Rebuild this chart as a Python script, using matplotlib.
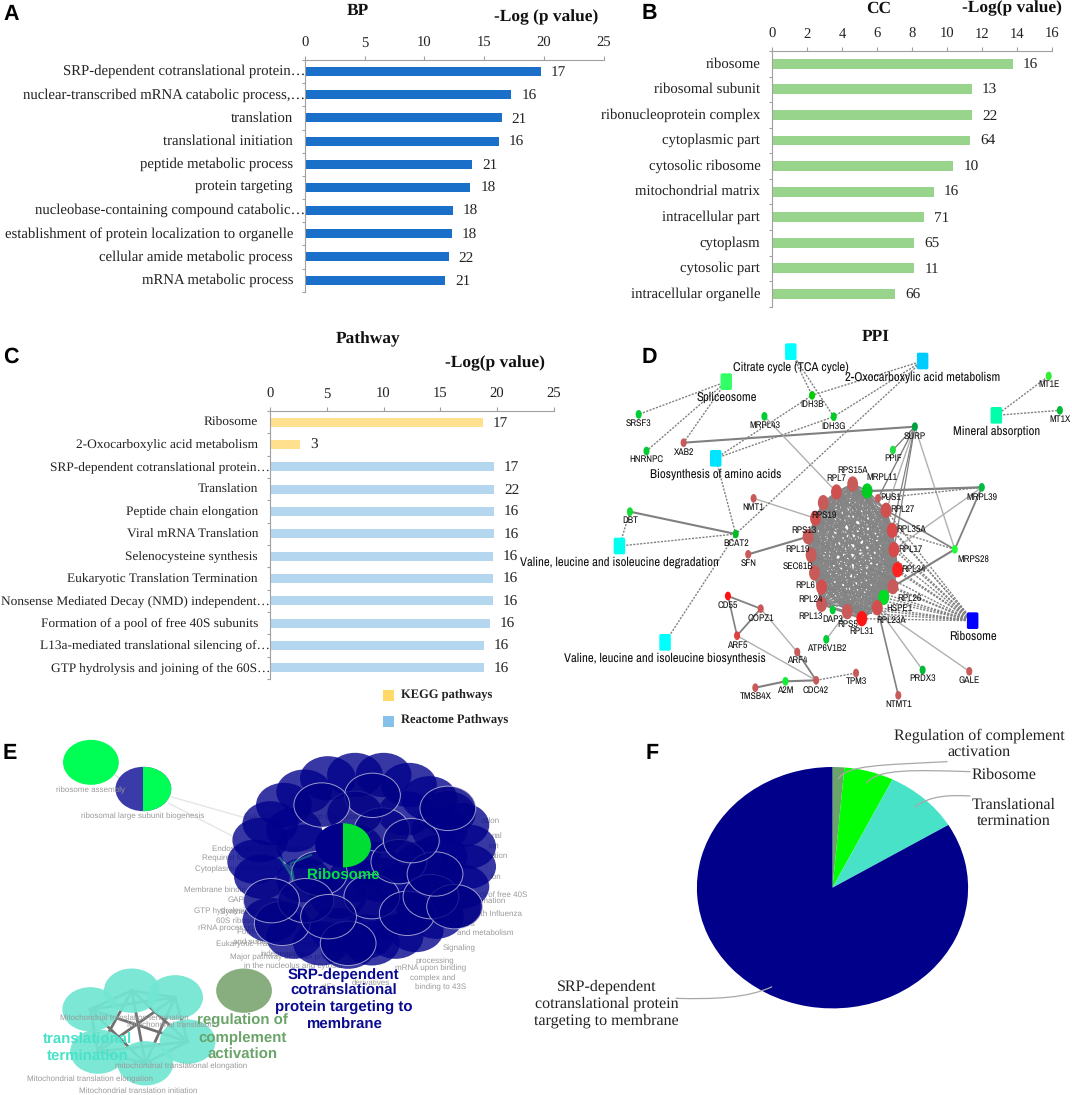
"""Six panel enrichment figure: GO bars, pathway bars, PPI network, cluster map, pie."""
from itertools import combinations

import matplotlib
matplotlib.use("Agg")
import matplotlib.pyplot as plt
from matplotlib.patches import Ellipse, FancyBboxPatch, PathPatch, Rectangle
from matplotlib.path import Path

plt.rcParams["text.hinting"] = "none"

W, H = 1072, 1095
SERIF = "Liberation Serif"
SANS = "Liberation Sans"
NARROW = ["Archivo Narrow", "Liberation Sans"]

# ---------------------------------------------------------------------------
# Bar data
# ---------------------------------------------------------------------------
BP_TERMS = ["SRP-dependent cotranslational protein…", "nuclear-transcribed mRNA catabolic process,…",
            "translation", "translational initiation", "peptide metabolic process", "protein targeting",
            "nucleobase-containing compound catabolic…", "establishment of protein localization to organelle",
            "cellular amide metabolic process", "mRNA metabolic process"]
BP_VALUES = [19.73, 17.28, 16.46, 16.23, 14.0, 13.84, 12.35, 12.32, 12.02, 11.75]
BP_COUNTS = [17, 16, 21, 16, 21, 18, 18, 18, 22, 21]

CC_TERMS = ["ribosome", "ribosomal subunit", "ribonucleoprotein complex", "cytoplasmic part",
            "cytosolic ribosome", "mitochondrial matrix", "intracellular part", "cytoplasm",
            "cytosolic part", "intracellular organelle"]
CC_VALUES = [13.77, 11.42, 11.42, 11.33, 10.36, 9.23, 8.66, 8.12, 8.12, 7.04]
CC_COUNTS = [16, 13, 22, 64, 10, 16, 71, 65, 11, 66]

PW_TERMS = ["Ribosome", "2-Oxocarboxylic acid metabolism", "SRP-dependent cotranslational protein…",
            "Translation", "Peptide chain elongation", "Viral mRNA Translation", "Selenocysteine synthesis",
            "Eukaryotic Translation Termination", "Nonsense Mediated Decay (NMD) independent…",
            "Formation of a pool of free 40S subunits", "L13a-mediated translational silencing of…",
            "GTP hydrolysis and joining of the 60S…"]
PW_VALUES = [18.72, 2.66, 19.74, 19.74, 19.7, 19.7, 19.65, 19.65, 19.65, 19.36, 18.85, 18.85]
PW_COUNTS = [17, 3, 17, 22, 16, 16, 16, 16, 16, 16, 16, 16]
PW_KEGG_ROWS = 2

# ---------------------------------------------------------------------------
# Pie data
# ---------------------------------------------------------------------------
PIE_SHARES = [1.4, 5.9, 9.0, 83.7]
PIE_COLORS = ["#6aa46a", "#00ff00", "#48e2c8", "#00008b"]

# ---------------------------------------------------------------------------
# PPI network, layout read from a crop of panel D
# ---------------------------------------------------------------------------
RED = "#c85a5a"
PATHWAYS = {
    "Citrate cycle (TCA cycle)": (742, 65, "#00ffff", 742, 112),
    "2-Oxocarboxylic acid metabolism": (1132, 93, "#00ccff", 1132, 141),
    "Spliceosome": (551, 155, "#33ff66", 551, 203),
    "Mineral absorption": (1350, 256, "#00ffaa", 1350, 303),
    "Biosynthesis of amino acids": (520, 385, "#00e5ff", 520, 432),
    "Valine, leucine and isoleucine degradation": (235, 648, "#00ffee", 234, 697),
    "Valine, leucine and isoleucine biosynthesis": (370, 937, "#00ffff", 370, 986),
    "Ribosome": (1280, 872, "#0000ff", 1280, 919),
}
GENES = {
    "SRSF3": (292, 253, "#00cc33", 292, 279), "HNRNPC": (315, 363, "#00cc33", 315, 389),
    "XAB2": (425, 338, RED, 425, 366), "MRPL43": (664, 259, "#00cc33", 664, 285),
    "IDH3B": (805, 196, "#00cc00", 805, 223), "IDH3G": (869, 260, "#00cc22", 869, 288),
    "SURP": (1109, 290, "#00a040", 1109, 319), "PPIF": (1044, 360, "#22dd44", 1044, 386),
    "MT1E": (1505, 138, "#33ee33", 1505, 164), "MT1X": (1538, 241, "#00bb33", 1538, 267),
    "MRPL39": (1307, 472, "#00bb44", 1307, 501), "MRPS28": (1227, 658, "#22ff33", 1281, 688),
    "NMT1": (632, 505, RED, 632, 532), "DBT": (266, 545, "#11dd33", 266, 572),
    "BCAT2": (579, 612, "#00bb22", 579, 640), "SFN": (616, 673, RED, 616, 700),
    "CD55": (556, 798, "#ff1111", 556, 825), "COPZ1": (653, 836, RED, 653, 864),
    "ARF5": (583, 917, "#e04040", 583, 945), "ARF4": (761, 966, RED, 761, 992),
    "CDC42": (817, 1051, RED, 817, 1080), "A2M": (726, 1054, "#11ee33", 726, 1080),
    "TMSB4X": (637, 1073, RED, 637, 1098), "TPM3": (935, 1029, RED, 935, 1055),
    "ATP6V1B2": (847, 928, "#00cc33", 847, 956), "PRDX3": (1132, 1020, "#00bb33", 1132, 1046),
    "GALE": (1270, 1024, RED, 1270, 1051), "NTMT1": (1060, 1096, RED, 1060, 1122),
    "PUS1": (1000, 505, RED, 1037, 502), "DAP3": (866, 840, "#00cc33", 866, 869),
}
RING = {
    "RPS15A": (925, 462, RED, 925, 420), "MRPL11": (968, 483, "#00cc22", 1012, 441),
    "RPL27": (1024, 541, "#d05050", 1073, 538), "RPL35A": (1042, 601, "#d84a4a", 1098, 598),
    "RPL17": (1047, 659, "#d84a4a", 1096, 657), "RPL34": (1058, 719, "#ff2020", 1106, 718),
    "RPL26": (1044, 770, RED, 1092, 806), "HSPE1": (1017, 802, "#00dd22", 1063, 834),
    "RPL23A": (998, 833, "#d05050", 1040, 870), "RPL31": (952, 866, "#ff1515", 952, 903),
    "RPS5": (909, 845, RED, 909, 884), "RPL13": (833, 823, RED, 800, 858),
    "RPL24": (833, 771, "#d05050", 800, 807), "RPL6": (812, 729, RED, 786, 765),
    "SEC61B": (802, 675, RED, 762, 710), "RPL19": (793, 620, RED, 761, 657),
    "RPS13": (815, 565, "#d05050", 780, 600), "RPS19": (838, 518, RED, 839, 555),
    "RPL7": (877, 486, "#d05050", 877, 446),
}
SOLID_EDGES = [("XAB2", "SURP", 1.5), ("DBT", "BCAT2", 1.5), ("SFN", "RPL19", 1.5), ("MRPL11", "MRPL39", 1.6),
               ("MRPL39", "MRPS28", 1.3), ("MRPS28", "RPL26", 1.5), ("MRPS28", "RPL27", 1.2),
               ("CD55", "COPZ1", 1.3), ("CD55", "ARF5", 1.2), ("COPZ1", "ARF5", 1.3), ("ARF4", "CDC42", 1.3),
               ("A2M", "CDC42", 1.5), ("TMSB4X", "A2M", 1.5), ("RPL23A", "NTMT1", 1.2),
               ("SURP", "PPIF", 1.0), ("SURP", "PUS1", 1.0), ("SURP", "RPL35A", 0.9), ("SURP", "RPL17", 0.9)]
LIGHT_EDGES = [("MRPL43", "RPL7"), ("NMT1", "RPS13"), ("SURP", "MRPS28"), ("MRPL39", "RPL17"),
               ("COPZ1", "ARF4"), ("ARF5", "CDC42"), ("ATP6V1B2", "RPS5"), ("RPL23A", "PRDX3"),
               ("RPL23A", "GALE"), ("SURP", "RPL27")]
DASHED_EDGES = [("Citrate cycle (TCA cycle)", "IDH3B"), ("Citrate cycle (TCA cycle)", "IDH3G"),
                ("2-Oxocarboxylic acid metabolism", "IDH3B"), ("2-Oxocarboxylic acid metabolism", "IDH3G"),
                ("2-Oxocarboxylic acid metabolism", "BCAT2"), ("Spliceosome", "SRSF3"),
                ("Spliceosome", "HNRNPC"), ("Spliceosome", "XAB2"), ("Biosynthesis of amino acids", "IDH3B"),
                ("Biosynthesis of amino acids", "IDH3G"), ("Biosynthesis of amino acids", "BCAT2"),
                ("Valine, leucine and isoleucine degradation", "DBT"),
                ("Valine, leucine and isoleucine degradation", "BCAT2"),
                ("Valine, leucine and isoleucine biosynthesis", "BCAT2"), ("Mineral absorption", "MT1E"),
                ("Mineral absorption", "MT1X"), ("CDC42", "TPM3"), ("MRPL39", "MRPL11"), ("MRPL39", "PUS1"),
                ("MRPS28", "RPL35A")]
RIBOSOME_MEMBERS = ["RPS15A", "RPL7", "RPS19", "RPS13", "RPL19", "SEC61B", "RPL6", "RPL24", "RPL13", "RPS5",
                    "RPL31", "RPL23A", "HSPE1", "RPL26", "RPL34", "RPL17", "RPL35A", "RPL27"]

# ---------------------------------------------------------------------------
# Cluster map, layout read from a crop of panel E
# ---------------------------------------------------------------------------
SRP_BACK = [(970, 145), (1050, 135), (1135, 135), (1210, 165), (1270, 205), (1365, 285), (1385, 350),
            (1385, 410), (1365, 470), (1290, 560), (1230, 600), (1170, 620), (1100, 640), (950, 640),
            (870, 620), (775, 440), (755, 395), (770, 330), (800, 280), (840, 225), (900, 185),
            (800, 570), (1340, 530), (1325, 250), (1030, 650), (1100, 400), (1000, 500), (1200, 250),
            (1050, 350), (900, 350), (870, 300), (1250, 400), (1000, 600), (1130, 560), (900, 450),
            (1300, 300), (1080, 620), (1300, 380), (1190, 470), (1130, 450), (1050, 450), (1250, 520)]
SRP_FRONT = [(1050, 250), (1130, 300), (945, 430), (1100, 500), (1180, 395), (1205, 550), (1275, 500),
             (1030, 640), (835, 580), (905, 512), (972, 560), (803, 512), (1345, 530), (1287, 432),
             (1217, 332), (1102, 196), (952, 225), (1325, 235)]
TEAL_NODES = [(267, 838), (390, 782), (518, 802), (555, 935), (430, 1000), (290, 965)]
GRAY_LEFT = [("Eukaryotic Translation Elongation", 722, 262), ("Endosomal/Vacuolar pathway", 626, 357),
             ("Required for", 599, 386), ("Cytoplasmic Ribosomal Proteins", 578, 417),
             ("Membrane binding", 543, 481), ("GAP", 673, 511), ("GTP hydrolysis and joining of the", 575, 543),
             ("Synthesis of", 650, 548), ("60S ribosomal subunit", 638, 572),
             ("rRNA processing in the nucleus and cytosol", 587, 595), ("Formation of", 700, 605),
             ("and subunit", 690, 635), ("Eukaryotic Translation Termination", 638, 643),
             ("independent", 770, 672), ("Major pathway of rRNA processing", 680, 681),
             ("in the nucleolus and cytosol", 722, 710), ("eIFs", 948, 772)]
GRAY_RIGHT = [("colon", 1478, 273), ("nal", 1486, 317), ("ion", 1476, 347), ("ation", 1504, 377), ("ion", 1483, 441),
              ("Formation of a pool of free 40S", 1560, 495), ("Eukaryotic Translation Termination", 1494, 514),
              ("with Influenza", 1545, 552), ("Factors", 1404, 582), ("and metabolism", 1520, 609),
              ("Signaling", 1408, 655), ("processing", 1345, 693), ("mRNA upon binding", 1380, 715),
              ("complex and", 1346, 745), ("derivatives", 1155, 758), ("binding to 43S", 1380, 773)]
TEAL_TEXT = [("Mitochondrial translation termination", 178, 865), ("Mitochondrial translation", 375, 885),
             ("mitochondrial translational elongation", 340, 1010), ("Mitochondrial translation elongation", 80, 1048),
             ("Mitochondrial translation initiation", 233, 1082)]


def px_axes(fig, x0, y0, w, h):
    ax = fig.add_axes([x0 / W, 1 - (y0 + h) / H, w / W, h / H])
    ax.patch.set_alpha(0)
    return ax


def crop_axes(fig, x0, y0, w, h, crop_w, crop_h):
    """Axes covering a pixel region, with the crop's own coordinates."""
    ax = px_axes(fig, x0, y0, w, h)
    ax.set_xlim(0, crop_w)
    ax.set_ylim(crop_h, 0)
    ax.axis("off")
    return ax


def bar_panel(ax, terms, values, counts, colors, xmax, step, bar_h, label_size):
    n = len(terms)
    rows = [i + 0.5 for i in range(n)]
    ax.barh(rows, values, height=bar_h, color=colors)
    ax.set_xlim(0, xmax)
    ax.set_ylim(n, 0)
    ax.xaxis.tick_top()
    ax.set_xticks(range(0, xmax + 1, step))
    ax.set_yticks(range(n + 1))
    ax.set_yticklabels([])
    ax.tick_params(axis="x", length=3, width=0.8, color="#a0a0a0", pad=4, labelsize=10.5,
                   labelfontfamily=SERIF, labelcolor="#222222")
    ax.tick_params(axis="y", length=2.5, width=0.8, color="#a0a0a0")
    for side in ("right", "bottom"):
        ax.spines[side].set_visible(False)
    for side in ("top", "left"):
        ax.spines[side].set_color("#a0a0a0")
        ax.spines[side].set_linewidth(0.8)
    for y, term, val, cnt in zip(rows, terms, values, counts):
        gap = 0 if term.endswith("…") else -12
        ax.annotate(term, (0, y), xytext=(gap, 0), textcoords="offset pixels", ha="right", va="center",
                    family=SERIF, fontsize=label_size, color="#222222", annotation_clip=False)
        ax.annotate(str(cnt), (val, y), xytext=(10, -1), textcoords="offset pixels", ha="left", va="center",
                    family=SERIF, fontsize=11, color="#222222")


def draw_network(ax):
    nodes = {}
    for table in (PATHWAYS, GENES, RING):
        for name, rec in table.items():
            nodes[name] = rec[:2]
    for a, b in combinations(RING, 2):
        ax.plot(*zip(nodes[a], nodes[b]), color="#858585", lw=1.25, zorder=1)
    for a, b, lw in SOLID_EDGES:
        ax.plot(*zip(nodes[a], nodes[b]), color="#808080", lw=lw, zorder=1)
    for a, b in LIGHT_EDGES:
        ax.plot(*zip(nodes[a], nodes[b]), color="#b0b0b0", lw=1.0, zorder=1)
    dashed = DASHED_EDGES + [("Ribosome", m) for m in RIBOSOME_MEMBERS]
    for a, b in dashed:
        ax.plot(*zip(nodes[a], nodes[b]), color="#808080", lw=1.0, ls=(0, (1.5, 1)), zorder=1)
    for name, (x, y, col, lx, ly) in PATHWAYS.items():
        ax.add_patch(FancyBboxPatch((x - 12, y - 20), 24, 40, boxstyle="round,pad=5", fc=col, ec="none", zorder=3))
        ax.text(lx, ly, name, ha="center", va="center", family=NARROW, fontsize=9.2, fontweight="medium",
                color="#111111", zorder=5)
    for name, (x, y, col, lx, ly) in GENES.items():
        ax.add_patch(Ellipse((x, y), 18, 26, fc=col, ec="none", zorder=3))
        ax.text(lx, ly, name, ha="center", va="center", family=NARROW, fontsize=7, fontweight="bold",
                color="#111111", zorder=5)
    for name, (x, y, col, lx, ly) in RING.items():
        ax.add_patch(Ellipse((x, y), 32, 46, fc=col, ec="none", zorder=3))
        ax.text(lx, ly, name, ha="center", va="center", family=NARROW, fontsize=7, fontweight="bold",
                color="#111111", zorder=5)


def half_ellipse(ax, cx, cy, left, right):
    ax.add_patch(Ellipse((cx, cy), 165, 133, fc=left, ec="none", zorder=4))
    half = Ellipse((cx, cy), 165, 133, fc=right, ec="none", zorder=4.1)
    ax.add_patch(half)
    half.set_clip_path(Rectangle((cx, cy - 70), 90, 140, transform=ax.transData))


def draw_clusters(ax):
    gray = dict(family=SANS, fontsize=5.8, color="#9a9a9a", va="center", zorder=1)
    for txt, x, y in GRAY_LEFT:
        ax.text(x, y, txt, ha="left", **gray)
    for txt, x, y in GRAY_RIGHT:
        ax.text(x, y, txt, ha="right", **gray)
    ax.plot([505, 720], [200, 262], color="#e6e6e6", lw=1, zorder=1)
    ax.plot([500, 700], [220, 325], color="#e6e6e6", lw=1, zorder=1)
    ax.plot([340, 362], [135, 150], color="#e0e0e0", lw=1, zorder=1)
    ax.add_patch(Ellipse((269, 97), 165, 135, fc="#00ff55", ec="none", zorder=4))
    half_ellipse(ax, 424, 177, "#3a3aa8", "#00ff55")
    for x, y in SRP_BACK:
        ax.add_patch(Ellipse((x, y), 165, 133, fc="#00008b", alpha=0.78, ec="none", zorder=2))
    for x, y in SRP_FRONT:
        ax.add_patch(Ellipse((x, y), 165, 133, fc=(0, 0, 0.52, 0.8), ec=(0.85, 0.85, 0.9, 0.7), lw=0.7, zorder=3))
    half_ellipse(ax, 1015, 346, "#00008b", "#00dd33")
    ax.plot([830, 870, 860, 920], [385, 450, 400, 375], color="#1a7a8a", lw=1.5, alpha=0.7, zorder=3.5)
    for a, b in combinations(TEAL_NODES, 2):
        ax.plot(*zip(a, b), color="#707070", lw=2, zorder=1.5)
    for x, y in TEAL_NODES:
        ax.add_patch(Ellipse((x, y), 165, 133, fc="#72e6d2", alpha=0.93, ec="none", zorder=2))
    ax.add_patch(Ellipse((722, 782), 165, 133, fc="#88ae80", ec="none", zorder=2))
    over = dict(family=SANS, fontsize=5.8, color="#9a9a9a", va="center", zorder=5)
    for txt, x, y in TEAL_TEXT:
        ax.text(x, y, txt, ha="left", **over)
    ax.text(269, 180, "ribosome assembly", ha="center", **over)
    ax.text(423, 259, "ribosomal large subunit biogenesis", ha="center", **over)
    bold = dict(family=SANS, fontsize=10.8, fontweight="bold", ha="center", va="center", zorder=6, linespacing=1.25)
    ax.text(1015, 438, "Ribosome", color="#00e040", **bold)
    ax.text(1017, 809, "SRP-dependent\ncotranslational\nprotein targeting to\nmembrane", color="#0a0a90", **bold)
    ax.text(717, 924, "regulation of\ncomplement\nactivation", color="#6aa46a", **bold)
    ax.text(260, 955, "translational\ntermination", color="#48e2c8", **bold)


def leader(ax, p0, p1, p2, p3):
    path = Path([p0, p1, p2, p3], [Path.MOVETO, Path.CURVE4, Path.CURVE4, Path.CURVE4])
    ax.add_patch(PathPatch(path, fc="none", ec="#a8a8a8", lw=0.9, zorder=5))


def main():
    fig = plt.figure(figsize=(W / 100, H / 100), dpi=100, facecolor="white")

    ax_a = px_axes(fig, 305, 60, 298.6, 231.7)
    bar_panel(ax_a, BP_TERMS, BP_VALUES, BP_COUNTS, ["#1a70c8"] * 10, 25, 5, 0.39, 10.6)
    ax_b = px_axes(fig, 772.3, 51, 279.7, 255.7)
    bar_panel(ax_b, CC_TERMS, CC_VALUES, CC_COUNTS, ["#98d48c"] * 10, 16, 2, 0.39, 10.6)
    pw_colors = ["#ffe08f"] * PW_KEGG_ROWS + ["#b4d7ef"] * (len(PW_TERMS) - PW_KEGG_ROWS)
    ax_c = px_axes(fig, 270, 411, 283.8, 268)
    bar_panel(ax_c, PW_TERMS, PW_VALUES, PW_COUNTS, pw_colors, 25, 5, 0.4, 9.6)

    ax_d = crop_axes(fig, 540, 330, 530, 400, 1568, 1200)
    draw_network(ax_d)
    ax_e = crop_axes(fig, 0, 730, 530, 365, 1568, 1095)
    draw_clusters(ax_e)

    ax_f = px_axes(fig, 832.5 - 135.6, 887.7 - 120.7, 271.2, 241.4)
    ax_f.pie(PIE_SHARES, colors=PIE_COLORS, startangle=90, counterclock=False, radius=1.0)
    ax_f.set_aspect("auto")
    ax_f.set_xlim(-1, 1)
    ax_f.set_ylim(-1, 1)

    # full page overlay, in pixels, for all free text
    page = crop_axes(fig, 0, 0, W, H, W, H)
    f0 = lambda x, y: (530 + x / 2.85, 720 + y / 3)
    leader(page, f0(878, 178), f0(900, 135), f0(1000, 135), f0(1190, 125))
    leader(page, f0(958, 190), f0(990, 145), f0(1100, 150), f0(1255, 155))
    leader(page, f0(1095, 262), f0(1140, 225), f0(1200, 225), f0(1255, 228))
    leader(page, f0(690, 800), f0(620, 835), f0(520, 838), f0(415, 835))

    for letter, x, y in [("A", 11, 14), ("B", 649, 13), ("C", 11, 357), ("D", 649, 357), ("E", 10, 753), ("F", 652, 753)]:
        page.text(x, y, letter, family=SANS, fontweight="bold", fontsize=15.5, ha="center", va="center", color="black")
    titles = [("BP", 358, 11, "center"), ("-Log (p value)", 598, 17, "right"), ("CC", 879, 9, "center"),
              ("-Log(p value)", 1062, 8, "right"), ("Pathway", 368, 339, "center"),
              ("-Log(p value)", 545, 363, "right"), ("PPI", 876, 337, "center")]
    for txt, x, y, ha in titles:
        page.text(x, y, txt, family=SERIF, fontweight="bold", fontsize=12.5, ha=ha, va="center", color="#111111")

    for y, col, txt, ty in [(695, "#ffd966", "KEGG pathways", 694), (721, "#85c1e9", "Reactome Pathways", 719)]:
        page.add_patch(Rectangle((383, y - 5.5), 11, 11, fc=col, ec="none"))
        page.text(401, ty, txt, family=SERIF, fontweight="bold", fontsize=9, va="center", color="#222222")

    pie_text = [("Regulation of complement\nactivation", 979, 744), ("Ribosome", 1004, 775),
                ("Translational\ntermination", 1014, 813),
                ("SRP-dependent\ncotranslational protein\ntargeting to membrane", 606.5, 1004)]
    for txt, x, y in pie_text:
        page.text(x, y, txt, family=SERIF, fontsize=11.5, ha="center", va="center", color="#222222", linespacing=1.2)

    fig.savefig("out.png", dpi=100, facecolor="white")
    plt.close(fig)


if __name__ == "__main__":
    main()
